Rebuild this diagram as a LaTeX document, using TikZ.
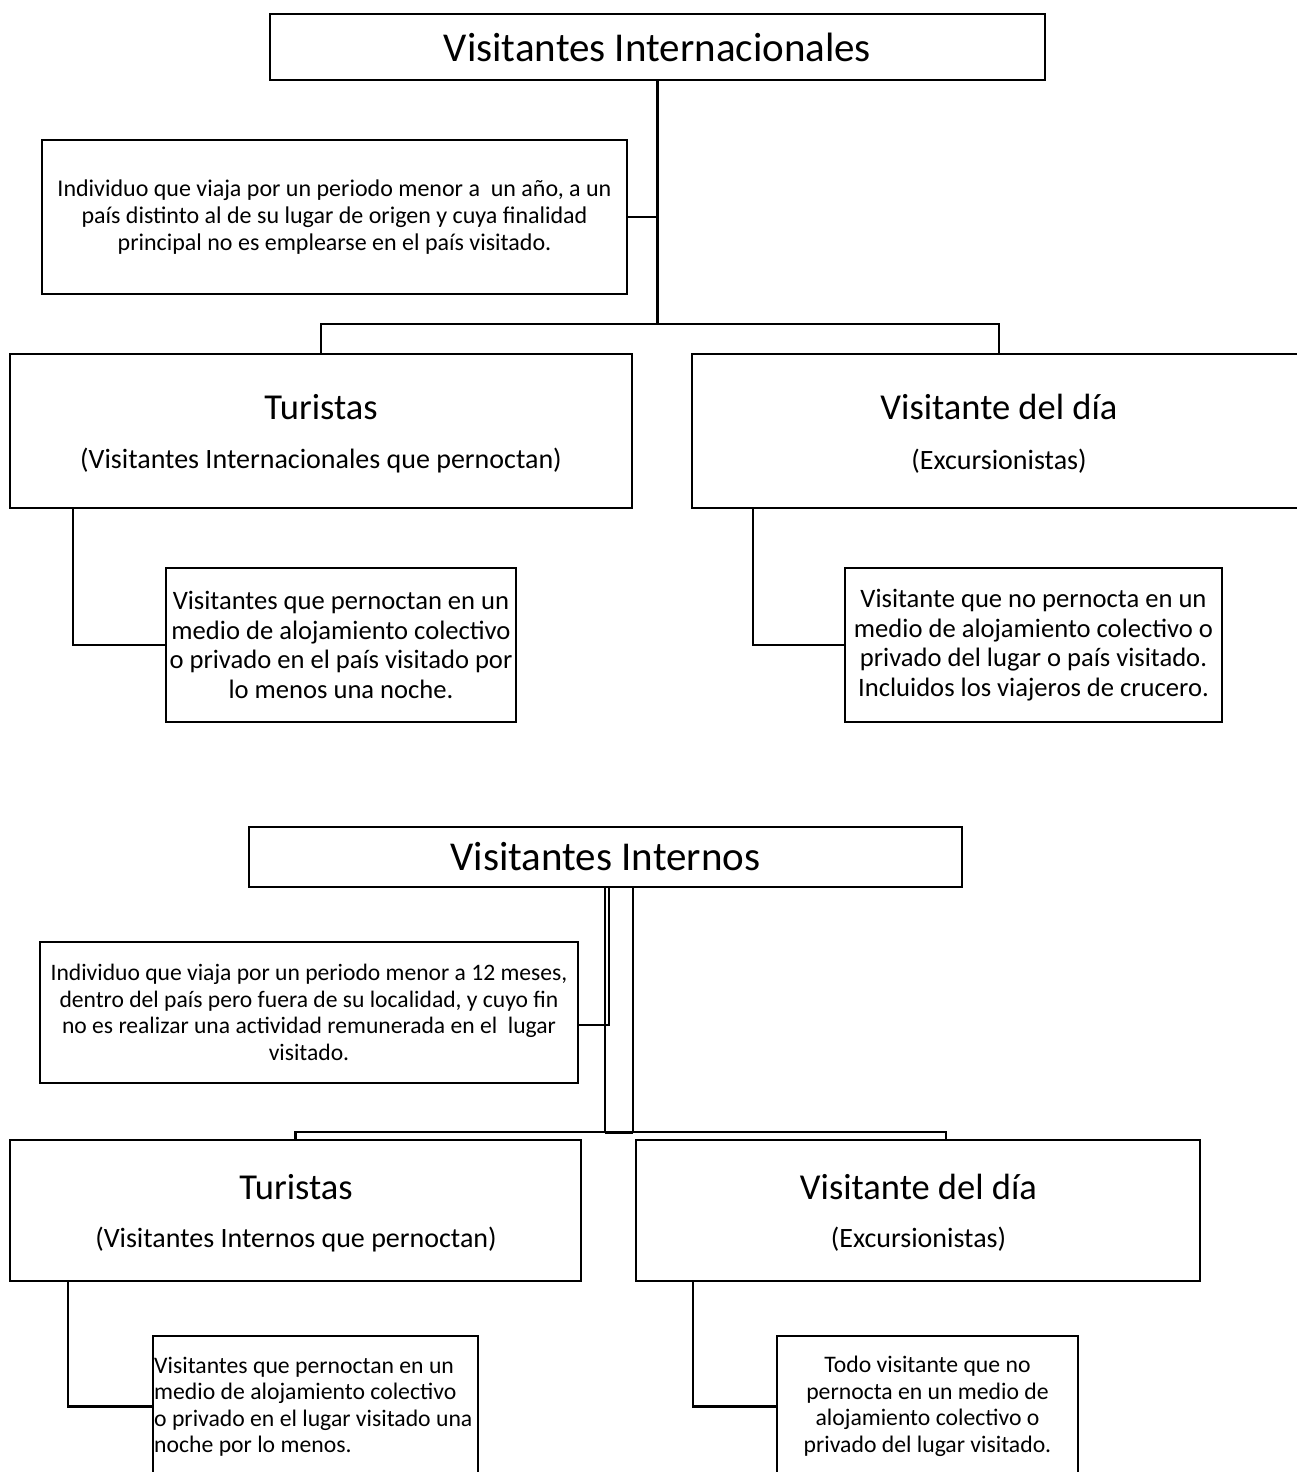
\documentclass[tikz,border=0pt]{standalone}
\usepackage{fontspec}
\setmainfont{Carlito}
\begin{document}
\begin{tikzpicture}[x=1pt,y=-1pt,
  box/.style={draw, line width=2pt, rectangle, inner sep=0pt},
  conn/.style={line width=2.5pt},
  thinconn/.style={line width=2pt},
  titletxt/.style={font=\fontsize{41}{49}\selectfont},
  headtxt/.style={font=\fontsize{36.5}{44}\selectfont},
  subtxt/.style={font=\fontsize{28}{33}\selectfont},
  descA/.style={align=center, font=\fontsize{24}{27}\selectfont},
  descB/.style={align=center, font=\fontsize{26.6}{29.5}\selectfont},
  descC/.style={align=center, font=\fontsize{23.6}{26.7}\selectfont},
  descD/.style={align=left, font=\fontsize{23.7}{26.5}\selectfont},
]
\useasboundingbox (0,0) rectangle (1296,1472);

% ---------- upper section ----------
\node[box, minimum width=775pt, minimum height=66pt, titletxt] (T1) at (657.5,47) {Visitantes Internacionales};
\node[box, minimum width=585pt, minimum height=154pt, descA] (D1) at (334.5,217)
  {Individuo que viaja por un periodo menor a \ un año, a un\\
   país distinto al de su lugar de origen y cuya finalidad\\
   principal no es emplearse en el país visitado.};
\node[box, minimum width=622pt, minimum height=154pt] (Tur1) at (321,431) {};
\node[box, minimum width=614pt, minimum height=154pt] (Vis1) at (999,431) {};
\node[headtxt] (Tur1a) at (321,407) {Turistas};
\node[subtxt] (Tur1b) at (321,461) {(Visitantes Internacionales que pernoctan)};
\node[headtxt] (Vis1a) at (999,407) {Visitante del día};
\node[subtxt] (Vis1b) at (999,461) {(Excursionistas)};
\node[box, minimum width=350pt, minimum height=154pt, descB] (Tl1) at (341,645)
  {Visitantes que pernoctan en un\\ medio de alojamiento colectivo\\ o privado en el país visitado por\\ lo menos una noche.};
\node[box, minimum width=377pt, minimum height=154pt, descB] (Vl1) at (1033.5,645)
  {Visitante que no pernocta en un\\ medio de alojamiento colectivo o\\ privado del lugar o país visitado.\\ Incluidos los viajeros de crucero.};

\coordinate (bar1) at (658,324);
\draw[conn] (T1.south) -- (T1.south |- bar1);
\draw[conn] (D1.east) -- (D1.east -| T1.south);
\draw[conn] (Tur1.north) |- (bar1) -| (Vis1.north);
\draw[conn] ([xshift=64pt]Tur1.south west) |- (Tl1.west);
\draw[conn] ([xshift=62pt]Vis1.south west) |- (Vl1.west);

% ---------- lower section ----------
\node[box, minimum width=713pt, minimum height=60pt, titletxt] (T2) at (605.5,857) {Visitantes Internos};
\node[box, minimum width=538pt, minimum height=141pt, descC] (D2) at (309,1012.5)
  {Individuo que viaja por un periodo menor a 12 meses,\\
   dentro del país pero fuera de su localidad, y cuyo fin\\
   no es realizar una actividad remunerada en el \ lugar\\
   visitado.};
\node[box, minimum width=571pt, minimum height=141pt] (Tur2) at (295.5,1210.5) {};
\node[box, minimum width=564pt, minimum height=141pt] (Vis2) at (918,1210.5) {};
\node[headtxt] (Tur2a) at (296,1187) {Turistas};
\node[subtxt] (Tur2b) at (296,1239) {(Visitantes Internos que pernoctan)};
\node[headtxt] (Vis2a) at (918.5,1187) {Visitante del día};
\node[subtxt] (Vis2b) at (918.5,1239) {(Excursionistas)};
\node[box, minimum width=325pt, minimum height=141pt] (Tl2) at (315.5,1406.5) {};
\node[descD, anchor=west, inner sep=0pt] (Tl2t) at ([xshift=2pt]Tl2.west)
  {Visitantes que pernoctan en un\\ medio de alojamiento colectivo\\ o privado en el lugar visitado una\\ noche por lo menos.};
\node[box, minimum width=301pt, minimum height=141pt, descD, align=center] (Vl2) at (927.5,1406.5)
  {Todo visitante que no\\ pernocta en un medio de\\ alojamiento colectivo o\\ privado del lugar visitado.};

\coordinate (jl) at (605,1132);
\coordinate (jr) at (633,1132);
\draw[thinconn] (T2.south -| jl) -- (jl);
\draw[thinconn] (T2.south -| jr) -- (jr);
\draw[thinconn] ([yshift=-12.5pt]D2.east) -| ([xshift=4pt]T2.south -| jl);
\draw[line width=2.2pt] (Tur2.north) |- (jl) -- (jr) -| ([xshift=28pt]Vis2.north);
\draw[line width=3pt] (jl) -- (jr);
\draw[conn] ([xshift=59pt]Tur2.south west) |- (Tl2.west);
\draw[conn] ([xshift=58pt]Vis2.south west) |- (Vl2.west);
\end{tikzpicture}
\end{document}
